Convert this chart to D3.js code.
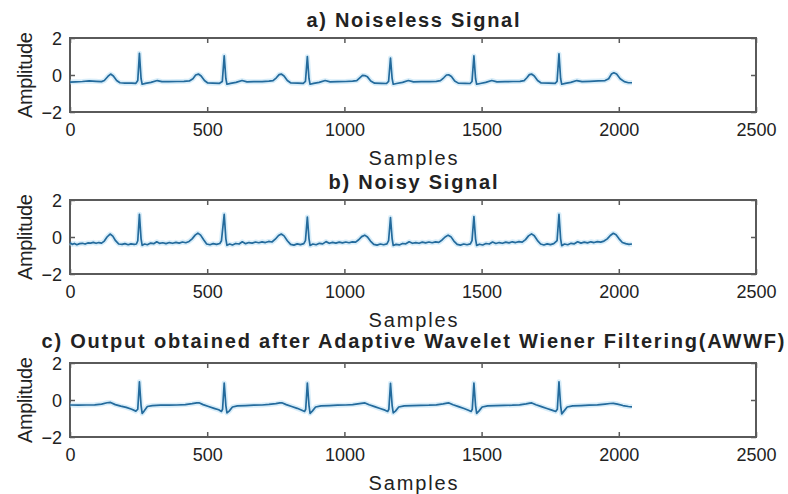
<!DOCTYPE html>
<html>
<head>
<meta charset="utf-8">
<script src="https://cdn.jsdelivr.net/npm/d3@7"></script>
<style>
  body { margin: 0; background: #fff; }
  .canvas { width: 788px; height: 494px; }
  text { font-family: "Liberation Sans", Arial, sans-serif; fill: #222; }
</style>
</head>
<body>
<div class="canvas"></div>
<script>
// titles of the three subplots
const titles = [
  'a) Noiseless Signal',
  'b) Noisy Signal',
  'c) Output obtained after Adaptive Wavelet Wiener Filtering(AWWF)'
];
const xTicks = [0, 500, 1000, 1500, 2000, 2500];
const yTicks = [-2, 0, 2];
const xLabel = 'Samples';
const yLabel = 'Amplitude';

// [sample, amplitude]
const noiseless = [
  [0,-0.38],[20,-0.37],[45,-0.35],[70,-0.32],[95,-0.34],[115,-0.36],[125,-0.3],[138,-0.08],[148,0.05],[158,-0.05],
  [170,-0.3],[182,-0.42],[200,-0.44],[225,-0.44],[240,-0.45],[247,-0.3],[253,1.17],[259,-0.2],[263,-0.5],[275,-0.45],
  [295,-0.4],[318,-0.3],[335,-0.36],[360,-0.36],[390,-0.35],[415,-0.34],[435,-0.32],[448,-0.2],[458,0.0],[468,0.05],
  [478,-0.05],[490,-0.3],[502,-0.43],[520,-0.44],[545,-0.45],[555,-0.35],[562,1.04],[568,-0.2],[572,-0.5],[585,-0.45],
  [605,-0.4],[627,-0.3],[645,-0.37],[670,-0.36],[700,-0.36],[725,-0.33],[740,-0.3],[752,-0.15],[762,0.02],[770,0.05],
  [780,-0.05],[792,-0.3],[805,-0.43],[830,-0.44],[850,-0.45],[858,-0.35],[865,0.99],[871,-0.2],[875,-0.5],[888,-0.45],
  [908,-0.4],[930,-0.3],[948,-0.37],[975,-0.36],[1005,-0.35],[1030,-0.33],[1045,-0.3],[1056,-0.15],[1066,-0.02],[1074,-0.03],
  [1084,-0.1],[1096,-0.32],[1110,-0.44],[1135,-0.45],[1153,-0.46],[1161,-0.35],[1168,0.92],[1174,-0.2],[1178,-0.5],[1190,-0.46],
  [1212,-0.4],[1233,-0.3],[1252,-0.37],[1280,-0.36],[1310,-0.36],[1335,-0.34],[1350,-0.3],[1362,-0.15],[1372,0.0],[1380,0.01],
  [1390,-0.08],[1402,-0.32],[1415,-0.44],[1440,-0.45],[1458,-0.46],[1465,-0.35],[1472,1.03],[1478,-0.2],[1482,-0.5],[1495,-0.46],
  [1515,-0.4],[1537,-0.3],[1556,-0.37],[1585,-0.36],[1615,-0.35],[1640,-0.34],[1655,-0.3],[1665,-0.15],[1674,0.02],[1682,0.05],
  [1692,-0.05],[1704,-0.3],[1717,-0.43],[1745,-0.44],[1768,-0.45],[1775,-0.35],[1782,1.14],[1788,-0.2],[1792,-0.5],[1805,-0.45],
  [1825,-0.4],[1847,-0.3],[1866,-0.36],[1895,-0.34],[1925,-0.32],[1950,-0.3],[1963,-0.2],[1973,0.05],[1982,0.12],[1992,0.05],
  [2005,-0.2],[2020,-0.36],[2035,-0.42],[2048,-0.42]
];

const noisy = [
  [0,-0.3],[8,-0.4],[16,-0.35],[25,-0.42],[35,-0.36],[45,-0.34],[55,-0.38],[65,-0.32],[75,-0.33],[85,-0.29],
  [95,-0.34],[105,-0.3],[115,-0.33],[125,-0.22],[135,0.0],[146,0.16],[156,0.05],[166,-0.2],[178,-0.38],[190,-0.4],
  [200,-0.36],[212,-0.42],[222,-0.37],[234,-0.4],[242,-0.38],[247,-0.2],[253,1.23],[259,-0.1],[263,-0.45],[272,-0.38],
  [282,-0.42],[294,-0.33],[305,-0.36],[316,-0.26],[326,-0.34],[338,-0.31],[350,-0.36],[362,-0.3],[374,-0.34],[386,-0.29],
  [398,-0.33],[410,-0.27],[422,-0.31],[434,-0.24],[445,-0.1],[456,0.1],[466,0.21],[476,0.1],[487,-0.15],[498,-0.38],
  [510,-0.42],[522,-0.36],[534,-0.4],[546,-0.35],[552,-0.2],[562,1.23],[568,-0.1],[572,-0.45],[582,-0.38],[592,-0.43],
  [604,-0.35],[616,-0.38],[628,-0.26],[640,-0.36],[652,-0.3],[664,-0.33],[676,-0.27],[688,-0.31],[700,-0.26],[712,-0.3],
  [724,-0.24],[736,-0.27],[748,-0.12],[760,0.08],[770,0.16],[780,0.06],[792,-0.2],[804,-0.4],[816,-0.44],[828,-0.37],
  [840,-0.41],[852,-0.36],[858,-0.2],[865,1.08],[871,-0.1],[875,-0.46],[885,-0.38],[897,-0.42],[909,-0.34],[921,-0.37],
  [933,-0.25],[945,-0.34],[957,-0.29],[969,-0.33],[981,-0.28],[993,-0.32],[1005,-0.27],[1017,-0.31],[1029,-0.26],[1041,-0.28],
  [1052,-0.15],[1063,0.02],[1074,0.1],[1084,0.0],[1095,-0.22],[1107,-0.4],[1119,-0.44],[1131,-0.38],[1143,-0.42],[1155,-0.37],
  [1161,-0.2],[1168,1.05],[1174,-0.1],[1178,-0.46],[1188,-0.4],[1200,-0.43],[1212,-0.35],[1224,-0.37],[1236,-0.26],[1248,-0.34],
  [1260,-0.3],[1272,-0.34],[1284,-0.28],[1296,-0.32],[1308,-0.27],[1320,-0.31],[1332,-0.26],[1344,-0.29],[1356,-0.16],[1367,0.0],
  [1378,0.1],[1388,0.02],[1399,-0.22],[1411,-0.4],[1423,-0.44],[1435,-0.38],[1447,-0.42],[1459,-0.37],[1465,-0.2],[1472,1.1],
  [1478,-0.1],[1482,-0.46],[1492,-0.39],[1504,-0.43],[1516,-0.35],[1528,-0.38],[1540,-0.27],[1552,-0.35],[1564,-0.3],[1576,-0.34],
  [1588,-0.28],[1600,-0.32],[1612,-0.26],[1624,-0.3],[1636,-0.25],[1648,-0.28],[1660,-0.14],[1671,0.06],[1682,0.17],[1692,0.07],
  [1703,-0.18],[1715,-0.38],[1727,-0.43],[1739,-0.37],[1751,-0.41],[1763,-0.36],[1775,-0.2],[1782,1.23],[1788,-0.1],[1792,-0.47],
  [1802,-0.38],[1814,-0.42],[1826,-0.34],[1838,-0.37],[1850,-0.26],[1862,-0.33],[1874,-0.28],[1886,-0.32],[1898,-0.26],[1910,-0.3],
  [1922,-0.25],[1934,-0.28],[1946,-0.22],[1958,-0.1],[1969,0.08],[1980,0.2],[1990,0.12],[2001,-0.1],[2013,-0.3],[2025,-0.36],
  [2037,-0.4],[2048,-0.38]
];

const filtered = [
  [0,-0.27],[30,-0.28],[60,-0.27],[90,-0.26],[115,-0.22],[135,-0.15],[148,-0.13],[165,-0.25],[185,-0.33],[205,-0.4],
  [225,-0.5],[240,-0.6],[247,-0.5],[253,0.98],[259,-0.3],[263,-0.72],[270,-0.6],[282,-0.35],[300,-0.3],[330,-0.28],
  [360,-0.28],[390,-0.27],[420,-0.25],[445,-0.2],[462,-0.16],[470,-0.15],[485,-0.25],[505,-0.35],[525,-0.45],[542,-0.53],
  [552,-0.62],[556,-0.5],[562,0.92],[568,-0.3],[572,-0.7],[580,-0.6],[592,-0.38],[610,-0.32],[640,-0.3],[670,-0.28],
  [700,-0.27],[725,-0.24],[750,-0.2],[765,-0.16],[772,-0.15],[788,-0.25],[808,-0.35],[828,-0.45],[845,-0.55],[855,-0.62],
  [859,-0.5],[865,0.92],[871,-0.3],[875,-0.72],[883,-0.6],[895,-0.38],[915,-0.32],[945,-0.3],[975,-0.28],[1005,-0.27],
  [1030,-0.25],[1055,-0.2],[1068,-0.17],[1075,-0.16],[1090,-0.26],[1110,-0.36],[1130,-0.46],[1148,-0.55],[1158,-0.62],[1162,-0.5],
  [1168,0.9],[1174,-0.3],[1178,-0.7],[1186,-0.6],[1198,-0.38],[1218,-0.32],[1248,-0.3],[1278,-0.29],[1308,-0.28],[1335,-0.26],
  [1360,-0.21],[1374,-0.17],[1381,-0.16],[1396,-0.26],[1416,-0.36],[1436,-0.46],[1452,-0.55],[1462,-0.62],[1466,-0.5],[1472,0.92],
  [1478,-0.3],[1482,-0.72],[1490,-0.6],[1502,-0.38],[1522,-0.32],[1552,-0.3],[1582,-0.29],[1612,-0.28],[1638,-0.26],[1662,-0.21],
  [1676,-0.17],[1683,-0.16],[1698,-0.26],[1718,-0.36],[1738,-0.46],[1756,-0.55],[1770,-0.62],[1776,-0.5],[1782,0.98],[1788,-0.3],
  [1792,-0.75],[1800,-0.6],[1812,-0.38],[1832,-0.32],[1862,-0.3],[1892,-0.28],[1922,-0.26],[1950,-0.22],[1968,-0.19],[1980,-0.18],
  [1995,-0.22],[2015,-0.3],[2035,-0.35],[2048,-0.37]
];

const series = [noiseless, noisy, filtered];

// layout
const W = 788, H = 494;
const left = 70, right = 756, ph = 74;
const tops = [38, 200, 363];
const titleW = [213, 169, 743];
const titleGap = [11, 11, 15];   // title baseline above the box
const boxColor = '#5a5a5a';
const lineColor = '#236a9c';

const svg = d3.select('.canvas')
  .append('svg')
  .attr('width', W)
  .attr('height', H)
  .style('background', '#fff');

const x = d3.scaleLinear().domain([0, 2500]).range([left, right]);

series.forEach((data, i) => {
  const top = tops[i];
  const y = d3.scaleLinear().domain([-2, 2]).range([top + ph, top]);
  const g = svg.append('g');

  // ticks pointing inwards, labels only bottom & left
  const bottom = g.append('g')
    .attr('transform', `translate(0,${top + ph})`)
    .call(d3.axisBottom(x).tickValues(xTicks).tickSize(-5).tickPadding(11).tickFormat(d3.format('d')));
  const topAx = g.append('g')
    .attr('transform', `translate(0,${top})`)
    .call(d3.axisTop(x).tickValues(xTicks).tickSize(-5).tickFormat(''));
  const leftAx = g.append('g')
    .attr('transform', `translate(${left},0)`)
    .call(d3.axisLeft(y).tickValues(yTicks).tickSize(-5).tickPadding(8).tickFormat(d3.format('d')));
  const rightAx = g.append('g')
    .attr('transform', `translate(${right},0)`)
    .call(d3.axisRight(y).tickValues(yTicks).tickSize(-5).tickFormat(''));

  [bottom, topAx, leftAx, rightAx].forEach(a => {
    a.select('.domain').remove();
    a.selectAll('line').attr('stroke', boxColor).attr('stroke-width', 1.5);
    a.selectAll('text').style('font-size', '18px').style('font-family', '"Liberation Sans", Arial, sans-serif').attr('fill', '#3a3a3a');
  });
  leftAx.selectAll('text').attr('dy', '0.36em');

  // box
  g.append('rect')
    .attr('x', left).attr('y', top)
    .attr('width', right - left).attr('height', ph)
    .attr('fill', 'none')
    .attr('stroke', boxColor)
    .attr('stroke-width', 2);

  const line = d3.line().x(d => x(d[0])).y(d => y(d[1]));

  // soft halo around the trace (as in the picture)
  g.append('path')
    .datum(data)
    .attr('d', line)
    .attr('fill', 'none')
    .attr('stroke', '#a9d8f2')
    .attr('stroke-opacity', 0.45)
    .attr('stroke-width', 5)
    .attr('stroke-linejoin', 'round');

  g.append('path')
    .datum(data)
    .attr('d', line)
    .attr('fill', 'none')
    .attr('stroke', lineColor)
    .attr('stroke-width', 1.7)
    .attr('stroke-linejoin', 'round');

  // title
  g.append('text')
    .attr('x', (left + right) / 2)
    .attr('y', top - titleGap[i])
    .attr('text-anchor', 'middle')
    .attr('textLength', titleW[i])
    .attr('lengthAdjust', 'spacing')
    .style('font-size', '20px')
    .style('font-weight', 'bold')
    .attr('fill', '#111')
    .text(titles[i]);

  // axis labels
  g.append('text')
    .attr('x', (left + right) / 2)
    .attr('y', top + ph + 53)
    .attr('text-anchor', 'middle')
    .attr('textLength', 89)
    .attr('lengthAdjust', 'spacing')
    .style('font-size', '20px')
    .attr('fill', '#3a3a3a')
    .text(xLabel);

  g.append('text')
    .attr('transform', `translate(32,${top + ph / 2}) rotate(-90)`)
    .attr('text-anchor', 'middle')
    .attr('textLength', 86)
    .attr('lengthAdjust', 'spacing')
    .style('font-size', '20px')
    .attr('fill', '#3a3a3a')
    .text(yLabel);
});
</script>
</body>
</html>
